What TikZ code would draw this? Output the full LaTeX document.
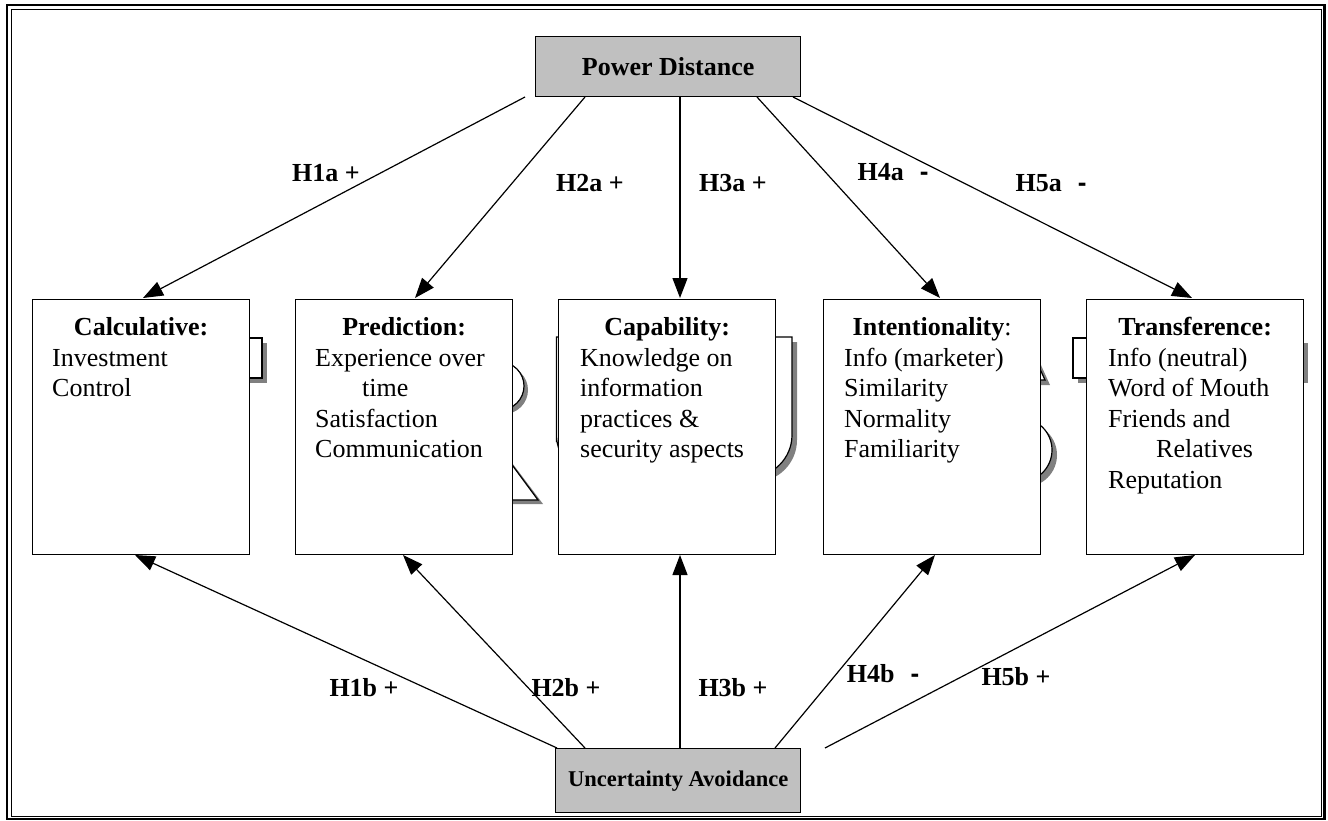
\documentclass[tikz,border=0pt]{standalone}
\usepackage{fontspec}
\setmainfont{Liberation Serif}
\newfontfamily\dashfont{Liberation Sans}
\usetikzlibrary{arrows.meta}
\definecolor{boxgray}{RGB}{192,192,192}
\definecolor{shgray}{RGB}{128,128,128}
\newcommand{\bodyfont}{\fontsize{26}{30.5}\selectfont}
\newcommand{\hypminus}{\hspace{16pt}{\dashfont\bfseries -}}
\begin{document}
\begin{tikzpicture}[x=1pt,y=-1pt,
  box/.style={draw, line width=1.3pt, fill=white, anchor=north west,
    minimum width=217pt, minimum height=255pt, inner sep=0pt},
  hbox/.style={draw, line width=1.3pt, fill=boxgray, anchor=north west,
    inner sep=0pt, font=\bodyfont\bfseries},
  ttl/.style={anchor=base, inner sep=0pt, font=\bodyfont\bfseries},
  body/.style={anchor=base west, inner sep=0pt, font=\bodyfont},
  lbl/.style={anchor=center, inner sep=0pt, font=\bodyfont\bfseries},
  arr/.style={line width=1.2pt, -{Triangle[length=20pt,width=15pt]}},
  shp/.style={draw, line width=1.2pt, fill=white},
  shd/.style={fill=shgray, draw=none}]
\useasboundingbox (0,0) rectangle (1328,821);
% frame
\draw[line width=2.6pt] (7,5) rectangle (1324.5,819);
\draw[line width=1.1pt] (11.5,9.5) rectangle (1321.5,816.5);

% background fragments (hidden shapes with shadows)
\fill[shd] (205,343) rectangle (267,383);
\filldraw[shp] (200,338) rectangle (262,378);

\fill[shd] (504,390) circle (24);
\filldraw[shp] (500,386) circle (24);
\fill[shd] (494,439) -- (543,504) -- (494,504) -- cycle;
\filldraw[shp] (490,435) -- (538,500) -- (490,500) -- cycle;

\fill[shd] (561.5,342) -- (797,342) -- (797,400) [rounded corners=42pt] -- (797,482) -- (561.5,482) -- (561.5,400) [sharp corners] -- cycle;
\filldraw[shp] (556.5,337) -- (792,337) -- (792,400) [rounded corners=42pt] -- (792,477) -- (556.5,477) -- (556.5,400) [sharp corners] -- cycle;

\fill[shd] (1030,341) -- (1050,385) -- (1030,385) -- cycle;
\filldraw[shp] (1025,336) -- (1045,380) -- (1025,380) -- cycle;
\fill[shd] (1025,455) circle (32);
\filldraw[shp] (1020,450) circle (32);

\fill[shd] (1078,343) rectangle (1125,383);
\filldraw[shp] (1073,338) rectangle (1120,378);
\fill[shd] (1270,343) rectangle (1308,383);

% main boxes
\node[box] (calc) at (32,299) {};
\node[box] (pred) at (295,299) {};
\node[box] (capa) at (558,299) {};
\node[box] (inte) at (823,299) {};
\node[box] (tran) at (1086,299) {};

\node[ttl] (calcT) at (calc.north |- 0,335) {Calculative:};
\node[body] (calcB) at (52,366) {\parbox[t]{190pt}{\raggedright Investment\\Control}};

\node[ttl] (predT) at (pred.north |- 0,335) {Prediction:};
\node[body] (predB) at (315,366) {\parbox[t]{195pt}{\raggedright Experience over\\\hspace*{47pt}time\\Satisfaction\\Communication}};

\node[ttl] (capaT) at (capa.north |- 0,335) {Capability:};
\node[body] (capaB) at (580,366) {\parbox[t]{195pt}{\raggedright Knowledge on\\information\\practices \&\\security aspects}};

\node[ttl] (inteT) at (inte.north |- 0,335) {Intentionality\mdseries:};
\node[body] (inteB) at (844,366) {\parbox[t]{195pt}{\raggedright Info (marketer)\\Similarity\\Normality\\Familiarity}};

\node[ttl] (tranT) at (tran.north |- 0,335) {Transference:};
\node[body] (tranB) at (1108,366) {\parbox[t]{195pt}{\raggedright Info (neutral)\\Word of Mouth\\Friends and\\\hspace*{48pt}Relatives\\Reputation}};

% driver boxes
\node[hbox, minimum width=265pt, minimum height=60pt] (pd) at (535,36) {Power Distance};
\node[hbox, minimum width=245pt, minimum height=64pt, font=\fontsize{22.5}{27}\selectfont\bfseries] (ua) at (555,748) {Uncertainty Avoidance};

% arrow end points
\coordinate (pa1) at (525,97);  \coordinate (ta1) at (143,298);
\coordinate (pa2) at (585,97);  \coordinate (ta2) at (415,298);
\coordinate (pa3) at (680,97);  \coordinate (ta3) at (680,298);
\coordinate (pa4) at (757,97);  \coordinate (ta4) at (940,298);
\coordinate (pa5) at (793,97);  \coordinate (ta5) at (1192,298);

\coordinate (ub1) at (557,748); \coordinate (tb1) at (135,555);
\coordinate (ub2) at (585,748); \coordinate (tb2) at (403,555);
\coordinate (ub3) at (680,748); \coordinate (tb3) at (680,555);
\coordinate (ub4) at (775,748); \coordinate (tb4) at (935,555);
\coordinate (ub5) at (825,748); \coordinate (tb5) at (1195,555);

\foreach \i in {1,...,5} {
  \draw[arr] (pa\i) -- (ta\i);
  \draw[arr] (ub\i) -- (tb\i);
}

% labels
\node[lbl] (l1a) at (326,173) {H1a +};
\node[lbl] (l2a) at (590,183) {H2a +};
\node[lbl] (l3a) at (733,183) {H3a +};
\node[lbl] (l4a) at (893,172) {H4a\hypminus};
\node[lbl] (l5a) at (1051,183) {H5a\hypminus};
\node[lbl] (l1b) at (364,688) {H1b +};
\node[lbl] (l2b) at (566,688) {H2b +};
\node[lbl] (l3b) at (733,688) {H3b +};
\node[lbl] (l4b) at (883,674) {H4b\hypminus};
\node[lbl] (l5b) at (1016,677) {H5b +};
\end{tikzpicture}
\end{document}
